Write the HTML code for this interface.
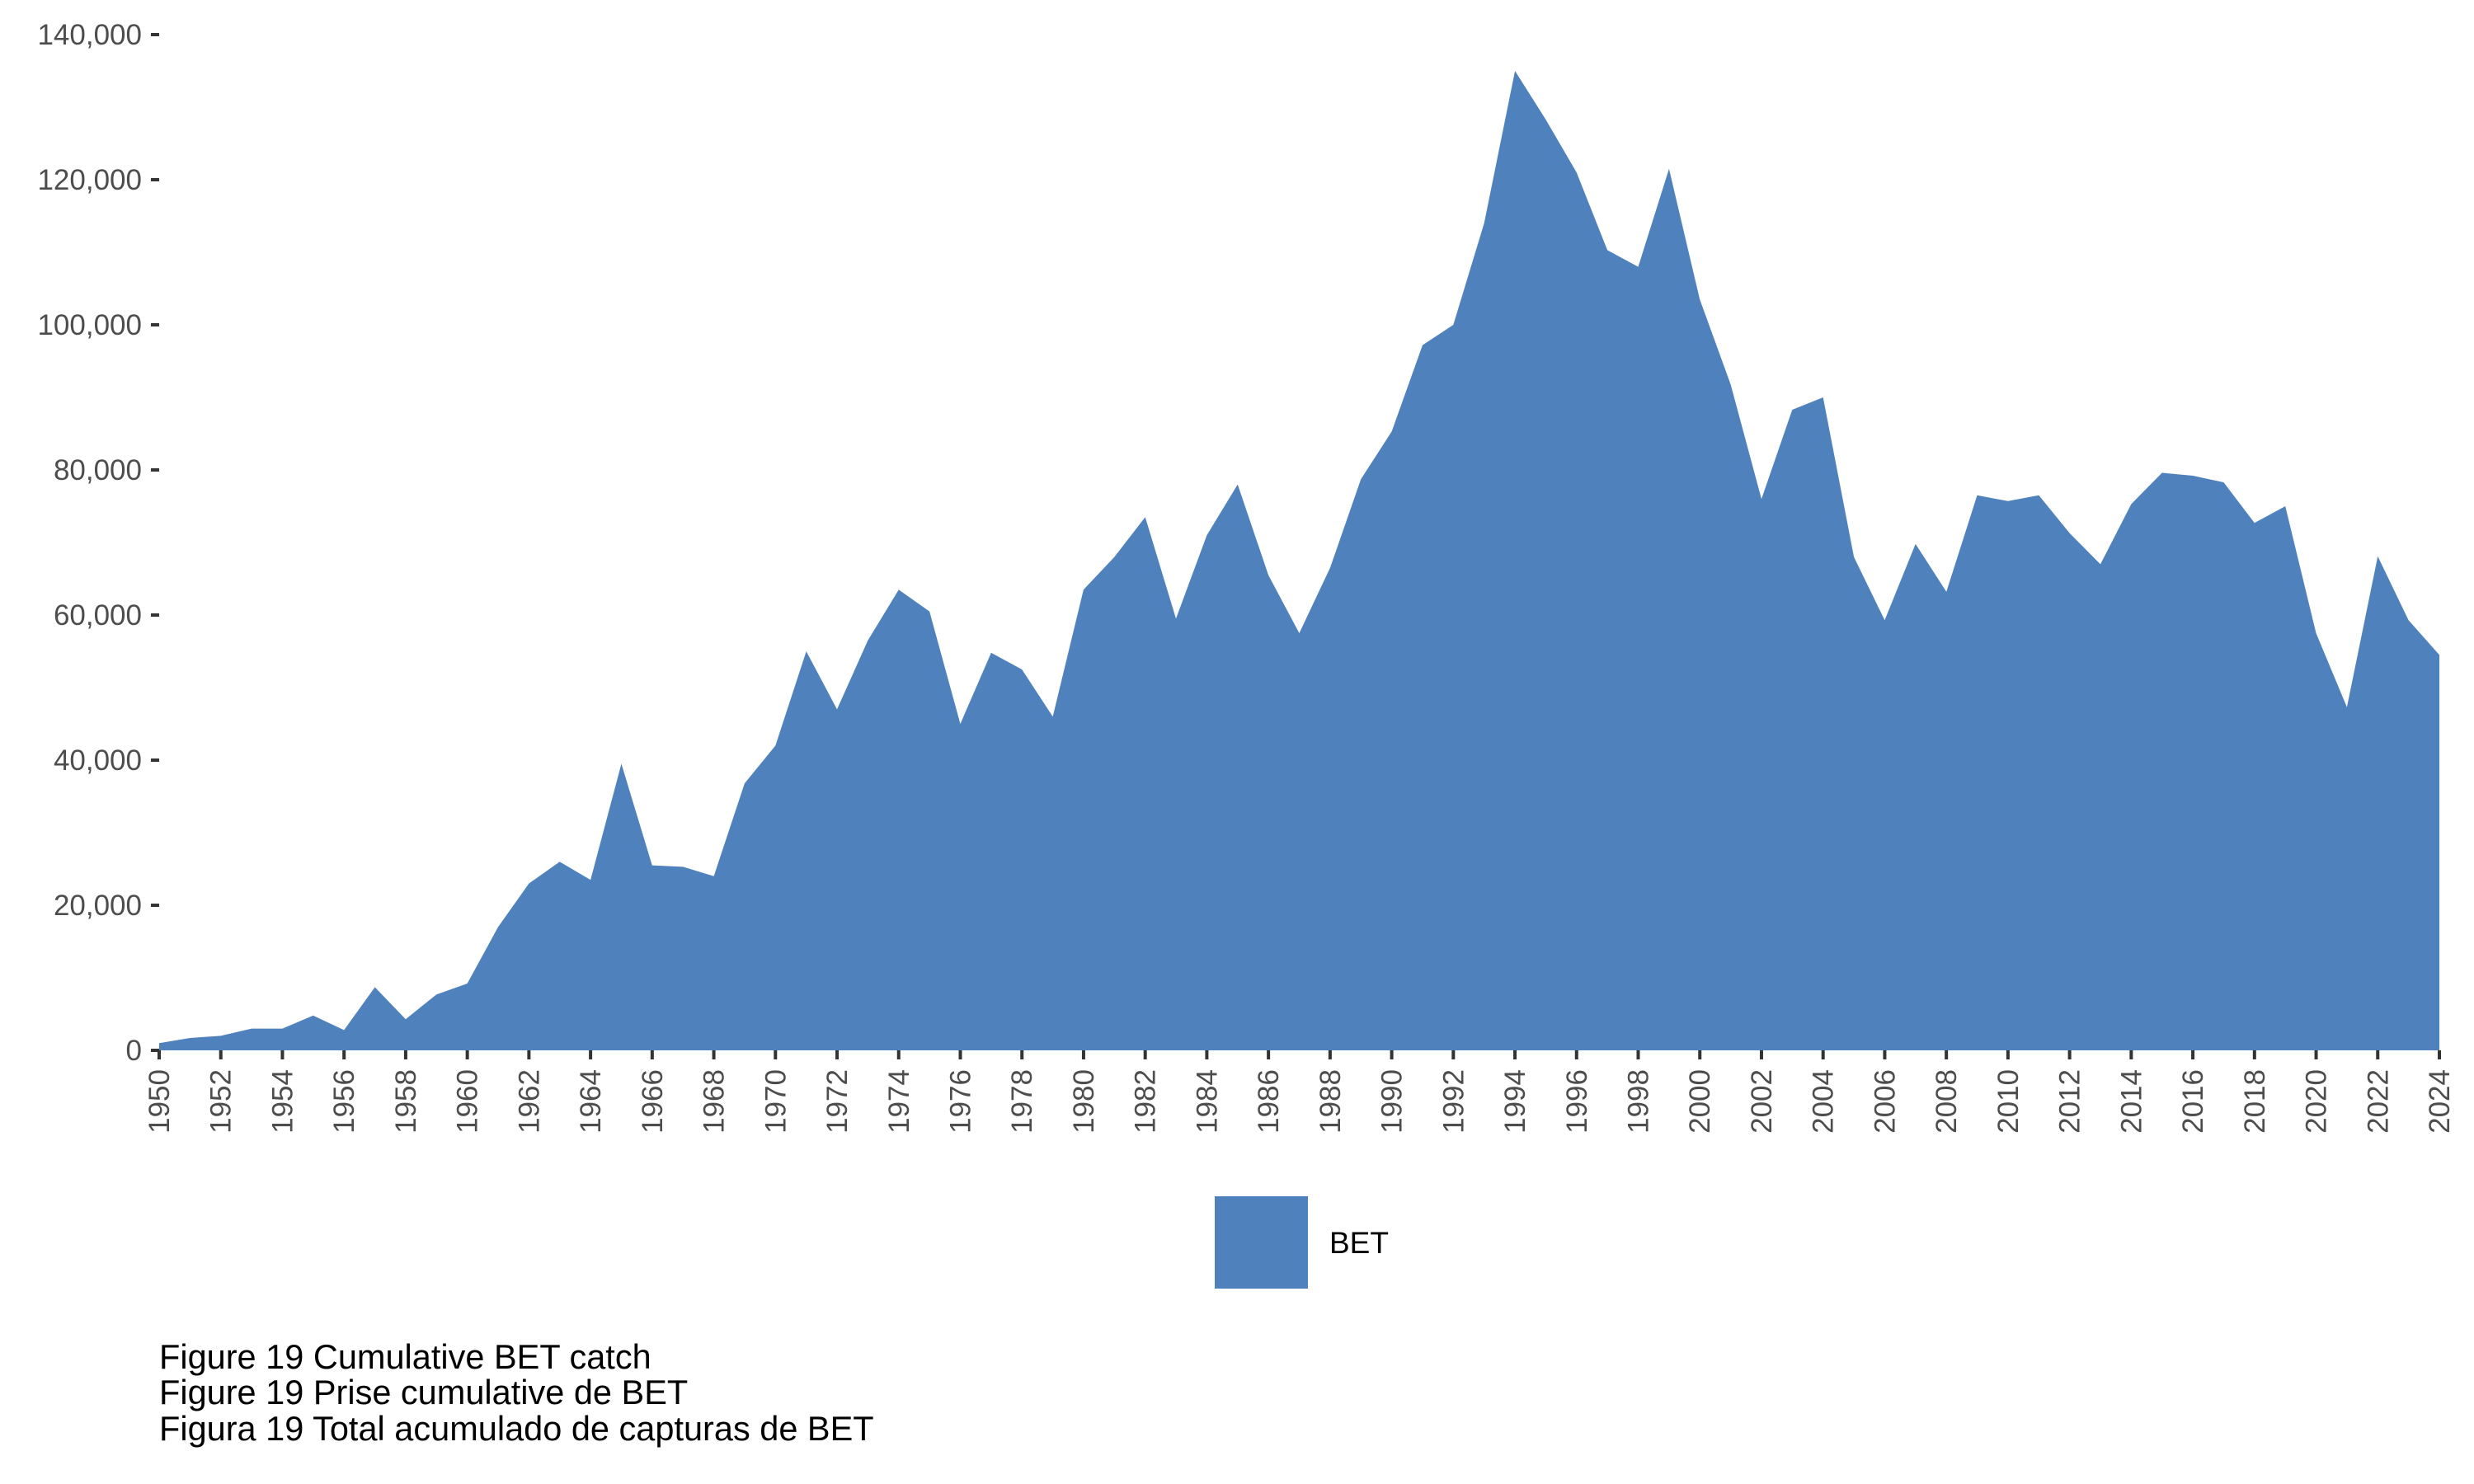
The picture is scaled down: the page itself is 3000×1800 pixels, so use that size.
<!DOCTYPE html>
<html><head><meta charset="utf-8"><style>
html,body{margin:0;padding:0;background:#fff;}
svg{display:block;}
text{font-family:"Liberation Sans",sans-serif;}
</style></head><body>
<svg id="s" width="3000" height="1800" xmlns="http://www.w3.org/2000/svg">
<g id="g"></g>
<rect x="1473" y="1451" width="113" height="112" fill="#4f81bd"/>
<text x="1612" y="1520" font-size="37" fill="#000">BET</text>
<text x="193" y="1660" font-size="41.5" fill="#000">Figure 19 Cumulative BET catch</text>
<text x="193" y="1703" font-size="41.5" fill="#000">Figure 19 Prise cumulative de BET</text>
<text x="193" y="1747" font-size="41.5" fill="#000">Figura 19 Total acumulado de capturas de BET</text>
</svg>
<script>
var v=[1000,1700,2000,3000,3000,4800,2800,8700,4300,7700,9200,17000,23000,26000,23500,39500,25500,25300,24000,36800,42000,55000,47000,56500,63500,60500,45000,54800,52500,46000,63500,68000,73500,59500,71000,78000,65500,57500,66500,78700,85300,97200,100000,114000,135000,128300,121000,110300,108000,121500,103500,91800,76000,88300,90000,68000,59300,69800,63200,76500,75700,76500,71300,67000,75300,79600,79200,78300,72700,75000,57500,47300,68100,59300,54500];
var x0=193,x1=2958,y0=1274,y1=42;
function X(i){return x0+i*(x1-x0)/74;}
function Y(t){return y0-t*(y0-y1)/140000;}
var h='';
var p=X(0)+','+y0+' ';
for(var i=0;i<v.length;i++)p+=X(i).toFixed(1)+','+Y(v[i]).toFixed(1)+' ';
p+=X(74)+','+y0;
h+='<polygon points="'+p+'" fill="#4f81bd"/>';
for(var k=0;k<=7;k++){var y=Y(k*20000);
h+='<line x1="183" x2="193" y1="'+y+'" y2="'+y+'" stroke="#333" stroke-width="4"/>';
var lab=(k*20000).toLocaleString('en-US');
h+='<text x="172" y="'+(y+12)+'" font-size="35" fill="#4d4d4d" text-anchor="end">'+lab+'</text>';}
for(var yr=1950;yr<=2024;yr+=2){var x=X(yr-1950);
h+='<line x1="'+x+'" x2="'+x+'" y1="1274" y2="1285" stroke="#333" stroke-width="4"/>';
h+='<text transform="translate('+(x+12)+',1297) rotate(-90)" font-size="35" fill="#4d4d4d" text-anchor="end">'+yr+'</text>';}
document.getElementById('g').innerHTML=h;
</script>
</body></html>
